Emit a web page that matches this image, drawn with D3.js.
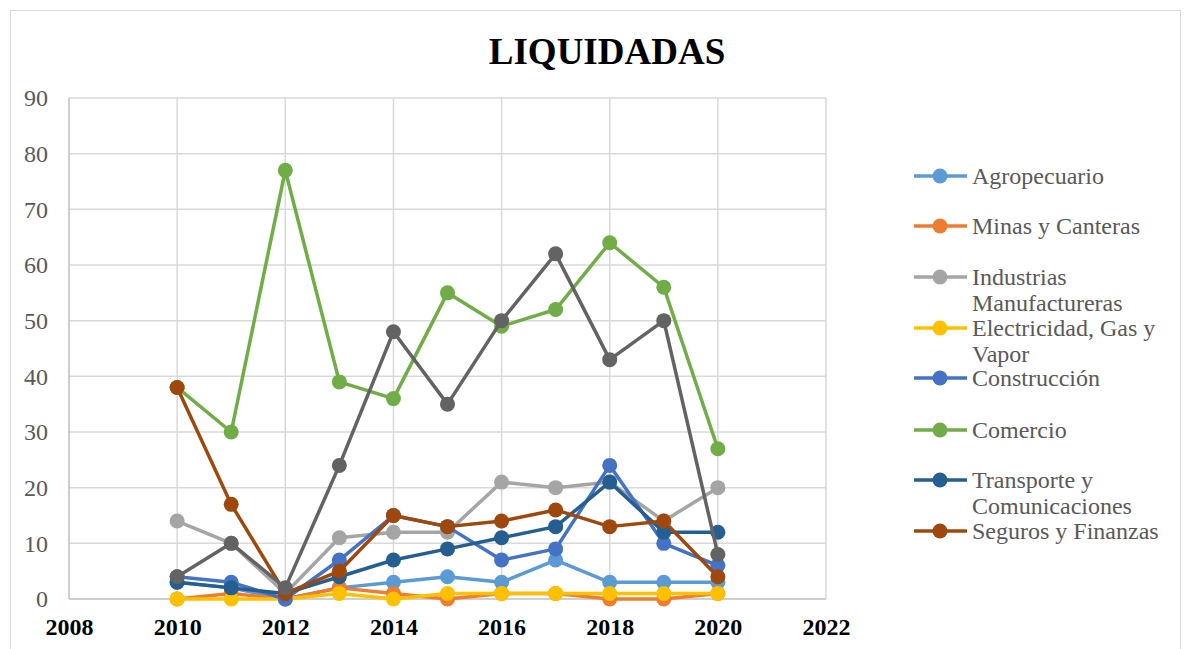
<!DOCTYPE html>
<html><head><meta charset="utf-8">
<script src="https://cdn.jsdelivr.net/npm/d3@7"></script>
<style>body{margin:0;background:#fff}</style>
</head><body>
<svg id="c" width="1191" height="649"></svg>
<script>
const years = [2010,2011,2012,2013,2014,2015,2016,2017,2018,2019,2020];
const xTicks = [2008,2010,2012,2014,2016,2018,2020,2022];
const yTicks = [0,10,20,30,40,50,60,70,80,90];
const seriesNames = ["Agropecuario","Minas y Canteras","Industrias Manufactureras","Electricidad, Gas y Vapor","Construcción","Comercio","Transporte y Comunicaciones","Seguros y Finanzas","Servicios"];
const seriesColors = ["#5B9BD5","#ED7D31","#A5A5A5","#FFC000","#4472C4","#70AD47","#255E91","#9E480E","#636363"];
const agropecuario   = [3,2,0,2,3,4,3,7,3,3,3];
const minas          = [0,1,0,2,1,0,1,1,0,0,1];
const industrias     = [14,10,1,11,12,12,21,20,21,14,20];
const electricidad   = [0,0,0,1,0,1,1,1,1,1,1];
const construccion   = [4,3,0,7,15,13,7,9,24,10,6];
const comercio       = [38,30,77,39,36,55,49,52,64,56,27];
const transporte     = [3,2,1,4,7,9,11,13,21,12,12];
const seguros        = [38,17,1,5,15,13,14,16,13,14,4];
const servicios      = [4,10,2,24,48,35,50,62,43,50,8];
const allValues = [agropecuario,minas,industrias,electricidad,construccion,comercio,transporte,seguros,servicios];
const legendLines = [["Agropecuario"],["Minas y Canteras"],["Industrias","Manufactureras"],["Electricidad, Gas y","Vapor"],["Construcción"],["Comercio"],["Transporte y","Comunicaciones"],["Seguros y Finanzas"]];

const svg = d3.select("#c");
const font = "'Liberation Serif','Times New Roman',serif";
svg.append("rect").attr("x",10.5).attr("y",10.5).attr("width",1170).attr("height",700)
  .attr("fill","#fff").attr("stroke","#D9D9D9").attr("stroke-width",1);

const x = d3.scaleLinear().domain([2008,2022]).range([69,826]);
const y = d3.scaleLinear().domain([0,90]).range([599,98]);

// gridlines
svg.append("g").selectAll("line").data(yTicks.slice(1)).join("line")
  .attr("x1",x(2008)).attr("x2",x(2022)).attr("y1",d=>y(d)).attr("y2",d=>y(d))
  .attr("stroke","#D9D9D9").attr("stroke-width",1.5);
svg.append("g").selectAll("line").data(xTicks.slice(1)).join("line")
  .attr("x1",d=>x(d)).attr("x2",d=>x(d)).attr("y1",y(0)).attr("y2",y(90))
  .attr("stroke","#D9D9D9").attr("stroke-width",1.5);
// axes lines
svg.append("line").attr("x1",x(2008)).attr("x2",x(2008)).attr("y1",y(0)).attr("y2",y(90)).attr("stroke","#BFBFBF").attr("stroke-width",1.5);
svg.append("line").attr("x1",x(2008)).attr("x2",x(2022)).attr("y1",y(0)).attr("y2",y(0)).attr("stroke","#BFBFBF").attr("stroke-width",1.5);

// axis labels
const yAxis = d3.axisLeft(y).tickValues(yTicks).tickSize(0).tickPadding(21);
const gy = svg.append("g").attr("transform",`translate(${x(2008)},0)`).call(yAxis);
gy.select(".domain").remove();
gy.selectAll("text").attr("font-family",font).attr("font-size",24).attr("fill","#595959");

const xAxis = d3.axisBottom(x).tickValues(xTicks).tickFormat(d3.format("d")).tickSize(0).tickPadding(19);
const gx = svg.append("g").attr("transform",`translate(0,${y(0)})`).call(xAxis);
gx.select(".domain").remove();
gx.selectAll("text").attr("font-family",font).attr("font-size",24).attr("font-weight","bold").attr("fill","#000");

// title
svg.append("text").attr("x",607).attr("y",64).attr("text-anchor","middle")
  .attr("font-family",font).attr("font-size",37).attr("font-weight","bold").text("LIQUIDADAS");

// series
const line = d3.line().x((d,i)=>x(years[i])).y(d=>y(d));
allValues.forEach((vals,si)=>{
  const g = svg.append("g");
  g.append("path").datum(vals).attr("d",line).attr("fill","none")
    .attr("stroke",seriesColors[si]).attr("stroke-width",3.5).attr("stroke-linejoin","round");
  g.selectAll("circle").data(vals).join("circle")
    .attr("cx",(d,i)=>x(years[i])).attr("cy",d=>y(d)).attr("r",7.5).attr("fill",seriesColors[si]);
});

// legend
const legendY = [176,226,277,328,378,430,480,531];
legendLines.forEach((lines,i)=>{
  const g = svg.append("g").attr("transform",`translate(0,${legendY[i]})`);
  g.append("line").attr("x1",914).attr("x2",967).attr("y1",0).attr("y2",0)
    .attr("stroke",seriesColors[i]).attr("stroke-width",3.5);
  g.append("circle").attr("cx",940).attr("cy",0).attr("r",7.5).attr("fill",seriesColors[i]);
  const t = g.append("text").attr("x",972).attr("y",8).attr("font-family",font)
    .attr("font-size",24).attr("fill","#595959");
  lines.forEach((l,j)=>t.append("tspan").attr("x",972).attr("dy",j===0?0:26).text(l));
});
</script>
</body></html>
